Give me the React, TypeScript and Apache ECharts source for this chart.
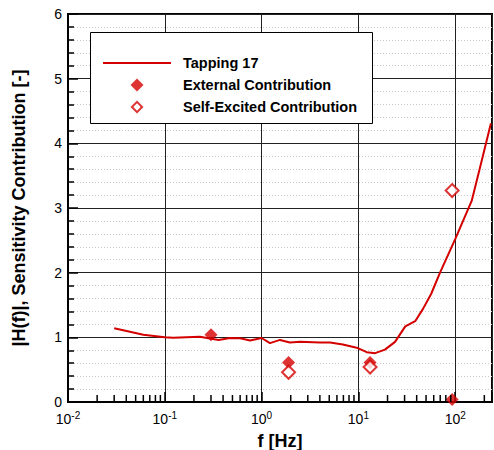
import React, { useEffect, useRef } from "react";
import * as echarts from "echarts";

const RED = "#d40000";
const FONT = "'Liberation Sans', Arial, Helvetica, sans-serif";

// Tapping 17 transfer-function magnitude
const lineFreq = [0.03, 0.06, 0.1, 0.122, 0.23, 0.36, 0.47, 0.6, 0.76, 1.0, 1.22, 1.55, 1.96, 2.5, 4.0, 5.1, 6.9, 9.6, 12.2, 14.9, 18.8, 23.9, 30.5, 38.6, 46.5, 56.4, 69.7, 100, 148, 180, 234];
const lineVal = [1.14, 1.04, 1.0, 0.995, 1.01, 0.96, 0.99, 0.985, 0.95, 0.99, 0.91, 0.96, 0.92, 0.93, 0.92, 0.92, 0.89, 0.84, 0.77, 0.755, 0.81, 0.93, 1.17, 1.25, 1.44, 1.67, 2.0, 2.52, 3.11, 3.62, 4.31];

// External contribution (filled diamonds)
const extFreq = [0.3, 1.9, 13.2, 93];
const extVal = [1.04, 0.61, 0.61, 0.04];

// Self-excited contribution (open diamonds)
const selfFreq = [1.9, 13.2, 93];
const selfVal = [0.46, 0.54, 3.27];

// x-axis minor tick positions (2..9 per decade)
const minorTickFreq = [
  0.02, 0.03, 0.04, 0.05, 0.06, 0.07, 0.08, 0.09,
  0.2, 0.3, 0.4, 0.5, 0.6, 0.7, 0.8, 0.9,
  2, 3, 4, 5, 6, 7, 8, 9,
  20, 30, 40, 50, 60, 70, 80, 90,
  200,
];

const seriesNames = ["Tapping 17", "External Contribution", "Self-Excited Contribution"];

const LINE_ICON = "path://M0,0H68V2H0Z";
const DIAMOND_ICON = "path://M6.5,0L13,6.5L6.5,13L0,6.5Z";
const HOLLOW_ICON = "path://M6.5,0L13,6.5L6.5,13L0,6.5Z M6.5,2.8L2.8,6.5L6.5,10.2L10.2,6.5Z";

export default function App() {
  const ref = useRef<HTMLDivElement>(null);

  useEffect(() => {
    if (!ref.current) return;
    const chart = echarts.init(ref.current, undefined, { renderer: "svg" });

    const legendBox = {
      type: "rect",
      z: 5,
      shape: { x: 90.5, y: 32.5, width: 282, height: 91 },
      style: { fill: "#fff", stroke: "#000", lineWidth: 1 },
    };

    const option: any = {
      animation: false,
      backgroundColor: "#fff",
      textStyle: { fontFamily: FONT },
      grid: {
        left: 68,
        right: 2,
        top: 14,
        bottom: 48,
        show: true,
        borderColor: "#000",
        borderWidth: 2,
        backgroundColor: "transparent",
        containLabel: false,
        outerBoundsMode: "none",
      },
      xAxis: {
        type: "log",
        logBase: 10,
        min: 0.01,
        max: 240,
        name: "f [Hz]",
        nameLocation: "middle",
        nameGap: 30,
        nameTextStyle: { fontFamily: FONT, fontSize: 18, fontWeight: "bold", color: "#000" },
        axisLine: { show: true, lineStyle: { color: "#000", width: 2 } },
        axisTick: { show: true, inside: true, length: 10, lineStyle: { color: "#000", width: 1.5 } },
        splitLine: { show: true, lineStyle: { color: "#222", width: 1 } },
        axisLabel: {
          margin: 8,
          color: "#000",
          fontFamily: FONT,
          formatter: (value: number) => {
            const e = Math.round(Math.log10(value));
            if (Math.abs(value - Math.pow(10, e)) > 1e-6 * value) return "";
            return `{b|10}{s|${e}}`;
          },
          rich: {
            b: { fontSize: 14, fontFamily: FONT, color: "#000" },
            s: { fontSize: 10, fontFamily: FONT, color: "#000", padding: [0, 0, 8, 0] },
          },
        },
      },
      yAxis: {
        type: "value",
        min: 0,
        max: 6,
        interval: 1,
        name: "|H(f)|, Sensitivity Contribution [-]",
        nameLocation: "middle",
        nameGap: 40,
        nameTextStyle: { fontFamily: FONT, fontSize: 18, fontWeight: "bold", color: "#000" },
        axisLine: { show: true, lineStyle: { color: "#000", width: 2 } },
        axisTick: { show: true, inside: true, length: 10, lineStyle: { color: "#000", width: 1.5 } },
        minorTick: { show: true, splitNumber: 5, length: 6, lineStyle: { color: "#000", width: 1.5 } },
        splitLine: { show: true, lineStyle: { color: "#222", width: 1 } },
        minorSplitLine: { show: true, lineStyle: { color: "#c8c8c8", width: 1, type: [1, 2] } },
        axisLabel: { margin: 6, fontSize: 14, color: "#000", fontFamily: FONT },
      },
      legend: {
        orient: "vertical",
        left: 103,
        top: 55.5,
        padding: 0,
        itemWidth: 68,
        itemHeight: 13,
        itemGap: 7,
        z: 10,
        symbolKeepAspect: true,
        data: [
          { name: seriesNames[0], icon: LINE_ICON, itemStyle: { color: RED, borderWidth: 0 } },
          { name: seriesNames[1], icon: DIAMOND_ICON, itemStyle: { color: RED, borderWidth: 0 } },
          { name: seriesNames[2], icon: HOLLOW_ICON, itemStyle: { color: RED, borderWidth: 0 } },
        ],
        textStyle: {
          fontFamily: FONT,
          fontSize: 14.5,
          fontWeight: "bold",
          color: "#000",
          lineHeight: 13,
          padding: [0, 0, 0, 7],
        },
      },
      graphic: [legendBox],
      series: [
        {
          name: seriesNames[0],
          type: "line",
          z: 3,
          symbol: "none",
          showSymbol: false,
          lineStyle: { color: RED, width: 2 },
          itemStyle: { color: RED },
          data: lineFreq.map((f, i) => [f, lineVal[i]]),
        },
        {
          name: seriesNames[1],
          type: "scatter",
          z: 4,
          symbol: "diamond",
          symbolSize: 13,
          itemStyle: { color: RED },
          data: extFreq.map((f, i) => [f, extVal[i]]),
        },
        {
          name: seriesNames[2],
          type: "scatter",
          z: 5,
          symbol: "diamond",
          symbolSize: 13,
          itemStyle: { color: "#fff", borderColor: RED, borderWidth: 2 },
          data: selfFreq.map((f, i) => [f, selfVal[i]]),
        },
      ],
    };

    chart.setOption(option);

    // x-axis minor ticks (2..9 per decade), placed through the chart's own log scale
    const tickGraphics: any[] = [];
    minorTickFreq.forEach((f) => {
      const p = chart.convertToPixel({ xAxisIndex: 0, yAxisIndex: 0 } as any, [f, 0]) as any;
      if (!p || !isFinite(p[0]) || !isFinite(p[1])) return;
      tickGraphics.push({
        type: "line",
        z: 50,
        silent: true,
        shape: { x1: p[0], y1: p[1], x2: p[0], y2: p[1] - 7 },
        style: { stroke: "#000", lineWidth: 1.5 },
      });
    });
    chart.setOption({ graphic: [legendBox, ...tickGraphics] });

    return () => chart.dispose();
  }, []);

  return (
    <div
      ref={ref}
      style={{ position: "fixed", left: 0, top: 0, width: 494, height: 450, background: "#fff" }}
    />
  );
}
